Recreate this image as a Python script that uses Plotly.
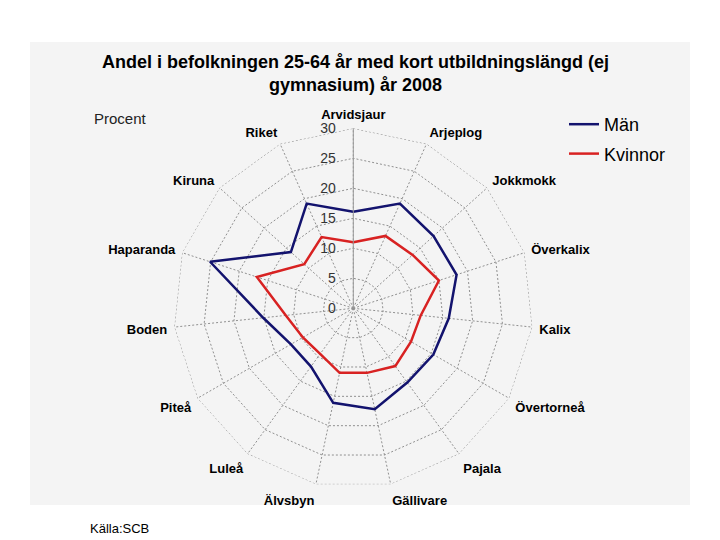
import plotly.graph_objects as go

categories = ["Arvidsjaur", "Arjeplog", "Jokkmokk", "Överkalix", "Kalix", "Övertorneå",
              "Pajala", "Gällivare", "Älvsbyn", "Luleå", "Piteå", "Boden",
              "Haparanda", "Kiruna", "Riket"]
man = [16.1, 19.1, 18.0, 18.1, 16.0, 15.4, 15.3, 17.2, 16.1, 12.0, 12.0, 15.1, 25.1, 14.0, 19.1]
kvinnor = [11.0, 13.2, 13.3, 15.0, 11.3, 11.1, 11.9, 11.0, 11.0, 9.4, 9.7, 11.3, 16.9, 11.0, 13.0]
radial_ticks = [0, 5, 10, 15, 20, 25, 30]

W, H = 720, 540
OFF = 8  # page body margin


def px(x):
    return (x - OFF) / W


def py(y):
    return 1 - (y - OFF) / H


cx, cy, R = 353.3, 308.3, 180
GRID = "#909090"
DASH = "2px,2px"

fig = go.Figure()
# outer grid ring at the top tick value (plotly omits the gridline at the range end)
fig.add_trace(go.Scatterpolar(
    r=[radial_ticks[-1]] * (len(categories) + 1), theta=categories + [categories[0]],
    mode="lines", line=dict(color=GRID, width=1, dash=DASH),
    showlegend=False, hoverinfo="skip"))
fig.add_trace(go.Scatterpolar(
    r=man + [man[0]], theta=categories + [categories[0]],
    mode="lines", name="Män", legendgroup="m", line=dict(color="#13136e", width=2.5)))
fig.add_trace(go.Scatterpolar(
    r=kvinnor + [kvinnor[0]], theta=categories + [categories[0]],
    mode="lines", name="Kvinnor", legendgroup="k", line=dict(color="#d82222", width=2.5)))

fig.add_shape(type="rect", xref="paper", yref="paper",
              x0=px(30), x1=px(690), y0=py(505), y1=py(42),
              fillcolor="#f4f4f4", line_width=0, layer="below")

fig.update_layout(
    width=W, height=H,
    margin=dict(l=0, r=0, t=0, b=0),
    paper_bgcolor="white",
    font=dict(family="Arial, Liberation Sans, sans-serif", color="black"),
    polar=dict(
        domain=dict(x=[px(cx - R), px(cx + R)], y=[py(cy + R), py(cy - R)]),
        bgcolor="rgba(0,0,0,0)",
        gridshape="linear",
        radialaxis=dict(
            range=[0, 30], tickvals=radial_ticks, angle=90, side="counterclockwise",
            tickangle=90, showline=True, linecolor="#9a9a9a", linewidth=1,
            gridcolor=GRID, griddash=DASH, gridwidth=1,
            ticks="outside", ticklen=12, tickcolor="rgba(0,0,0,0)",
            tickfont=dict(size=14, color="#333333"),
        ),
        angularaxis=dict(
            rotation=90, direction="clockwise", categoryorder="array", categoryarray=categories,
            showline=False,
            gridcolor=GRID, griddash=DASH, gridwidth=1,
            ticks="outside", ticklen=4, tickcolor="rgba(0,0,0,0)",
            tickfont=dict(size=13, color="black", weight="bold"),
        ),
    ),
    showlegend=True,
    legend=dict(x=px(564), y=py(106), xanchor="left", yanchor="top",
                traceorder="grouped", tracegroupgap=3,
                bgcolor="rgba(0,0,0,0)", font=dict(size=18, color="black")),
    annotations=[
        dict(text="<b>Andel i befolkningen 25-64 år med kort utbildningslängd (ej<br>gymnasium) år 2008</b>",
             x=px(355), y=py(50), xref="paper", yref="paper", xanchor="center", yanchor="top",
             showarrow=False, font=dict(size=18, color="black")),
        dict(text="Procent", x=px(92), y=py(119), xref="paper", yref="paper",
             xanchor="left", yanchor="middle", showarrow=False, font=dict(size=15, color="#222222")),
        dict(text="Källa:SCB", x=px(88), y=py(528), xref="paper", yref="paper",
             xanchor="left", yanchor="middle", showarrow=False, font=dict(size=13, color="black")),
    ],
)

fig.write_html("out.html")
